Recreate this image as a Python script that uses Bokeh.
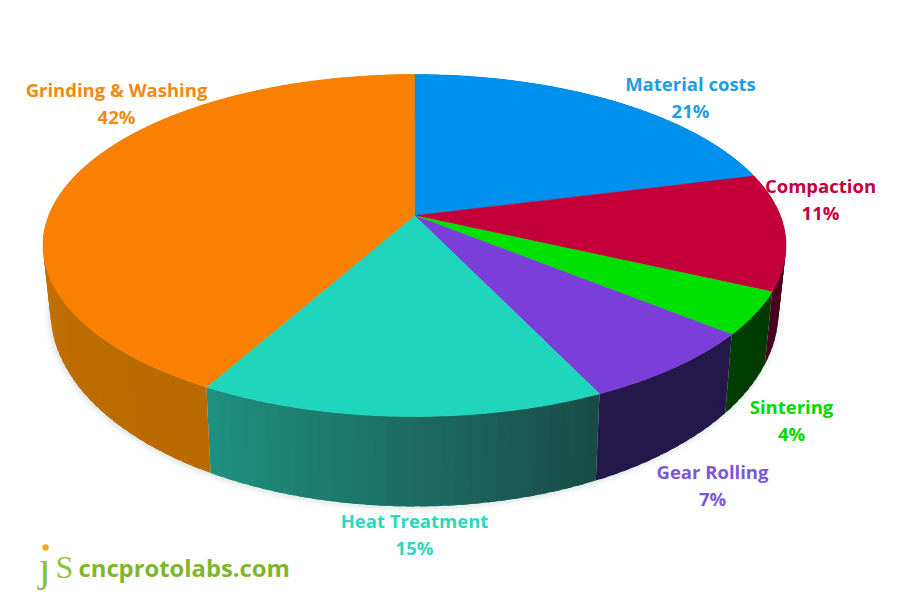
import math
from bokeh.plotting import figure
from bokeh.embed import file_html
from bokeh.resources import INLINE
from bokeh.core.properties import value

# --- chart data, clockwise from 12 o'clock ---
categories = ["Material costs", "Compaction", "Sintering", "Gear Rolling", "Heat Treatment", "Grinding & Washing"]
shares = [21, 11, 4, 7, 15, 42]
top_colors = ["#0091EE", "#C4003A", "#00E000", "#7A3FD8", "#1FD6BC", "#F98000"]
wall_start = ["#00508A", "#4A0020", "#003E00", "#24174A", "#1F9080", "#D27A00"]
wall_end = ["#00508A", "#3A0018", "#003A00", "#24174A", "#194C47", "#B86A00"]
label_colors = ["#1F9BE8", "#C4003A", "#00D800", "#7E57D6", "#2BD8BE", "#F08A12"]

# --- layout of the picture ---
label_x = [690, 820, 791, 712, 414, 116]
label_y = [83, 185, 406, 471, 520, 89]
TOP = dict(cx=414, cy=245, rx=371.5, ry=171)
BOT = dict(cx=414, cy=311, rx=364, ry=195)
TILT = 0.175


def norm(frac):
    """Pie fraction -> point in the unit disk, foreshortened by perspective."""
    t = 2 * math.pi * frac
    x, y = math.sin(t), math.cos(t)
    d = 1 + TILT * y
    return x * math.sqrt(1 - TILT ** 2) / d, (y + TILT) / d


def place(e, frac):
    x, y = norm(frac)
    return e["cx"] + e["rx"] * x, e["cy"] - e["ry"] * y


def mix(a, b, f):
    ca = [int(a[i:i + 2], 16) for i in (1, 3, 5)]
    cb = [int(b[i:i + 2], 16) for i in (1, 3, 5)]
    return "#%02x%02x%02x" % tuple(round(u + (v - u) * f) for u, v in zip(ca, cb))


p = figure(width=900, height=600, x_range=(0, 900), y_range=(600, 0),
           output_backend="svg", toolbar_location=None, min_border=0,
           background_fill_color="white", border_fill_color="white", outline_line_color=None)
p.axis.visible = False
p.grid.visible = False

total = sum(shares)

# soft shadow under the disc
for grow, alpha in ((7, 0.025), (5, 0.035), (3, 0.05), (1.5, 0.07)):
    fr = [i / 240 for i in range(241)]
    sx = [BOT["cx"] - 1 + (BOT["rx"] + grow) * norm(f)[0] for f in fr]
    sy = [BOT["cy"] + 1 - (BOT["ry"] + grow) * norm(f)[1] for f in fr]
    p.patch(sx, sy, fill_color="#6F9C98", fill_alpha=alpha, line_color=None)

# side wall, in narrow strips so the shading can run along it
start = 0.0
wx, wy, wc = [], [], []
for share, c0, c1 in zip(shares, wall_start, wall_end):
    frac = share / total
    n = max(6, int(share * 2))
    for i in range(n):
        f0 = start + frac * i / n
        # each strip runs on under its neighbour, so no seam shows between them
        f1 = min(start + frac, start + frac * (i + 1.6) / n)
        a0, a1 = place(TOP, f0), place(TOP, f1)
        b0, b1 = place(BOT, f0), place(BOT, f1)
        wx.append([a0[0], a1[0], b1[0], b0[0]])
        wy.append([a0[1], a1[1], b1[1], b0[1]])
        g = (n - 1 - i) / max(1, n - 1)
        wc.append(mix(c0, c1, g))
    start += frac
p.patches(wx, wy, fill_color=wc, line_color=None)

# top face
start = 0.0
apex = (TOP["cx"], TOP["cy"] - TOP["ry"] * TILT)
tx, ty = [], []
for share in shares:
    frac = share / total
    n = max(8, int(share * 6))
    pts = [place(TOP, start + frac * i / n) for i in range(n + 1)]
    tx.append([apex[0]] + [q[0] for q in pts])
    ty.append([apex[1]] + [q[1] for q in pts])
    start += frac
p.patches(tx, ty, fill_color=top_colors, line_color=top_colors, line_width=0.5)

# labels
font = value("Open Sans")
p.text(label_x, label_y, text=categories, text_color=label_colors, text_font=font,
       text_font_size="18.5px", text_font_style="bold", text_align="center", text_baseline="middle")
p.text(label_x, [y + 27 for y in label_y], text=["%d%%" % s for s in shares], text_color=label_colors,
       text_font=font, text_font_size="18.5px", text_font_style="bold", text_align="center", text_baseline="middle")

# logo
logo_text = ["cncprotolabs.com"]
p.text([78], [567], text=logo_text, text_color="#7FB52F", text_font=font, text_font_size="23.8px",
       text_font_style="bold", text_align="left", text_baseline="middle")
p.text([38], [566], text=["\u0237"], text_color="#8CBF3F", text_font=value("Liberation Serif"),
       text_font_size="44px", text_align="left", text_baseline="middle")
p.text([55], [566], text=["S"], text_color="#8CBF3F", text_font=value("Liberation Serif"),
       text_font_size="32px", text_align="left", text_baseline="middle")
p.scatter([45], [547], size=6.5, color="#F5A623", line_color=None)

open("out.html", "w").write(file_html(p, INLINE))
